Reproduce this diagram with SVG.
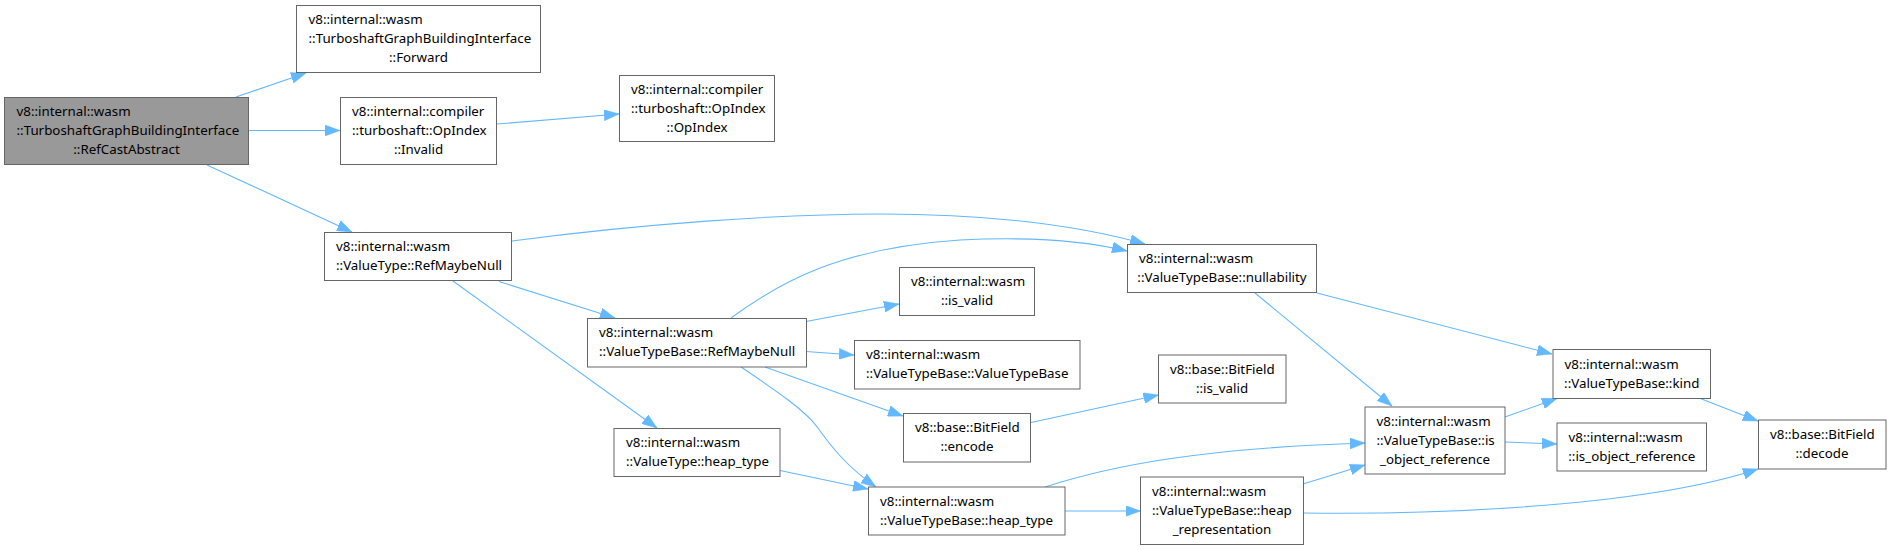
<svg xmlns="http://www.w3.org/2000/svg" width="1891" height="550" viewBox="0 0 1891 550">
<defs>
<style>
.n rect{fill:#ffffff;stroke:#666666;stroke-width:1}
.n.main rect{fill:#999999}
.n text{font-family:"Noto Sans","Open Sans","DejaVu Sans",sans-serif;font-size:13.33px;fill:#000000}
.n text.c{text-anchor:middle}
.e path{fill:none;stroke:#63b8ff;stroke-width:1.1;marker-end:url(#ah)}
</style>
<marker id="ah" markerUnits="userSpaceOnUse" viewBox="0 0 15 11" markerWidth="15" markerHeight="11" refX="15" refY="5.5" orient="auto">
<path d="M0,0 L15,5.5 L0,11 z" fill="#63b8ff" stroke="#63b8ff" stroke-width="0.5"/>
</marker>
</defs>
<rect x="0" y="0" width="1891" height="550" fill="#ffffff"/>
<g id="edges" class="e">
<path d="M236,97 L306,73"/>
<path d="M249,130.5 L340,130.5"/>
<path d="M207,165 L352,232"/>
<path d="M497,124 L619,114"/>
<path d="M512,241 C640,224 780,214 880,214 C990,214 1080,226 1145,244"/>
<path d="M731,318 C780,282 840,248 960,240 C1040,236 1090,242 1127,251"/>
<path d="M499,281.5 L615,318"/>
<path d="M453,281 L657,428"/>
<path d="M806,321.5 L899,304"/>
<path d="M806,351.5 L854,355"/>
<path d="M765,367 L903,416"/>
<path d="M741,367 C775,390 805,410 818,428 C830,445 846,466 876,487"/>
<path d="M780,470.5 L868,489"/>
<path d="M1031,422.5 L1158.5,395"/>
<path d="M1045,487 C1110,466 1200,448 1365,443"/>
<path d="M1065,511 L1140.5,511"/>
<path d="M1303,484 L1365,465"/>
<path d="M1303,513 C1450,515 1650,505 1758,469"/>
<path d="M1255,293 L1392,406"/>
<path d="M1317,293 L1552,354"/>
<path d="M1505,417 L1557,398.5"/>
<path d="M1505,442 L1557,444"/>
<path d="M1699,398 L1758,421"/>
</g>
<g id="node1" class="n main">
<rect x="4.5" y="97.5" width="244" height="67"/>
<text x="16.5" y="116">v8::internal::wasm</text>
<text x="16.5" y="135">::TurboshaftGraphBuildingInterface</text>
<text class="c" x="126.5" y="154">::RefCastAbstract</text>
</g>
<g id="node2" class="n">
<rect x="296.5" y="5.5" width="244" height="67"/>
<text x="308.5" y="24">v8::internal::wasm</text>
<text x="308.5" y="43">::TurboshaftGraphBuildingInterface</text>
<text class="c" x="418.5" y="62">::Forward</text>
</g>
<g id="node3" class="n">
<rect x="340.5" y="97.5" width="156" height="67"/>
<text x="352" y="116">v8::internal::compiler</text>
<text x="352" y="135">::turboshaft::OpIndex</text>
<text class="c" x="418.5" y="154">::Invalid</text>
</g>
<g id="node4" class="n">
<rect x="619.5" y="75.5" width="155" height="66"/>
<text x="631" y="93.5">v8::internal::compiler</text>
<text x="631" y="112.5">::turboshaft::OpIndex</text>
<text class="c" x="697" y="131.5">::OpIndex</text>
</g>
<g id="node5" class="n">
<rect x="324.5" y="232.5" width="187" height="48"/>
<text x="336" y="251">v8::internal::wasm</text>
<text x="336" y="270">::ValueType::RefMaybeNull</text>
</g>
<g id="node6" class="n">
<rect x="1127.5" y="244.5" width="189" height="48"/>
<text x="1139" y="263">v8::internal::wasm</text>
<text class="c" x="1222" y="282">::ValueTypeBase::nullability</text>
</g>
<g id="node7" class="n">
<rect x="899.5" y="267.5" width="135" height="48"/>
<text x="911" y="286">v8::internal::wasm</text>
<text class="c" x="967" y="305">::is_valid</text>
</g>
<g id="node8" class="n">
<rect x="587.5" y="318.5" width="219" height="48.5"/>
<text x="599" y="337.25">v8::internal::wasm</text>
<text x="599" y="356.25">::ValueTypeBase::RefMaybeNull</text>
</g>
<g id="node9" class="n">
<rect x="854.5" y="340.5" width="225.5" height="48.5"/>
<text x="866" y="359.25">v8::internal::wasm</text>
<text x="866" y="378.25">::ValueTypeBase::ValueTypeBase</text>
</g>
<g id="node10" class="n">
<rect x="1158.5" y="355" width="127.5" height="48"/>
<text x="1170" y="373.5">v8::base::BitField</text>
<text class="c" x="1222" y="392.5">::is_valid</text>
</g>
<g id="node11" class="n">
<rect x="903.5" y="413.5" width="127" height="48.5"/>
<text x="915" y="432.25">v8::base::BitField</text>
<text class="c" x="967" y="451.25">::encode</text>
</g>
<g id="node12" class="n">
<rect x="614" y="428.5" width="166" height="48"/>
<text x="626" y="447">v8::internal::wasm</text>
<text x="626" y="466">::ValueType::heap_type</text>
</g>
<g id="node13" class="n">
<rect x="868.5" y="487" width="196.5" height="48"/>
<text x="880" y="505.5">v8::internal::wasm</text>
<text x="880" y="524.5">::ValueTypeBase::heap_type</text>
</g>
<g id="node14" class="n">
<rect x="1140.5" y="477" width="163" height="67.5"/>
<text x="1152" y="495.75">v8::internal::wasm</text>
<text x="1152" y="514.75">::ValueTypeBase::heap</text>
<text class="c" x="1222" y="533.75">_representation</text>
</g>
<g id="node15" class="n">
<rect x="1365" y="407" width="140" height="67"/>
<text x="1376.5" y="425.5">v8::internal::wasm</text>
<text x="1376.5" y="444.5">::ValueTypeBase::is</text>
<text class="c" x="1435" y="463.5">_object_reference</text>
</g>
<g id="node16" class="n">
<rect x="1553" y="349.5" width="157.5" height="49"/>
<text x="1564.5" y="368.5">v8::internal::wasm</text>
<text class="c" x="1631.75" y="387.5">::ValueTypeBase::kind</text>
</g>
<g id="node17" class="n">
<rect x="1557" y="423" width="149.5" height="48"/>
<text x="1568.5" y="441.5">v8::internal::wasm</text>
<text class="c" x="1631.75" y="460.5">::is_object_reference</text>
</g>
<g id="node18" class="n">
<rect x="1758.5" y="420" width="127.5" height="49"/>
<text x="1770" y="439">v8::base::BitField</text>
<text class="c" x="1822" y="458">::decode</text>
</g>
</svg>
